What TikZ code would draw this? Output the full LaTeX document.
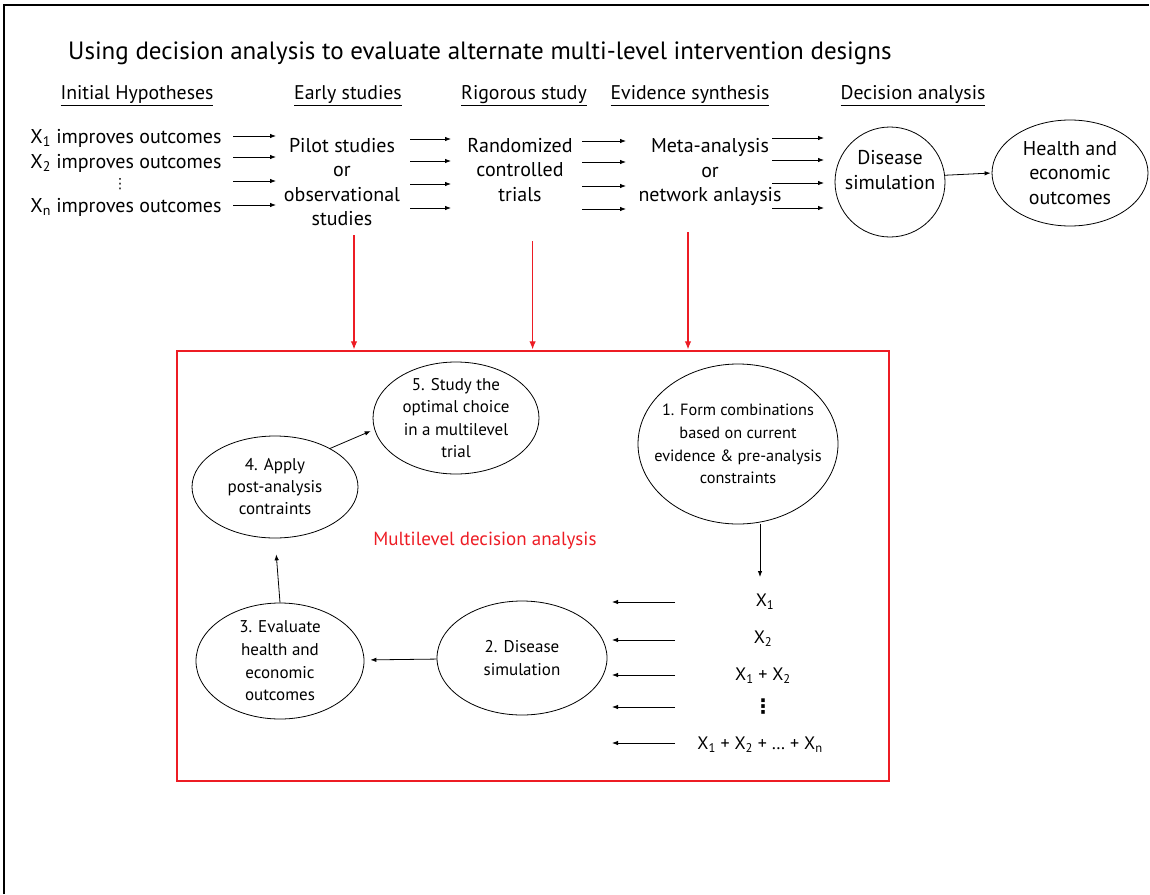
\documentclass[tikz,border=0pt]{standalone}
\usepackage{fontspec}
\setmainfont{PT Sans}
\newfontfamily\dotsfont{DejaVu Sans}
\usetikzlibrary{arrows.meta,shapes.geometric}
\definecolor{mlred}{RGB}{237,28,36}

\tikzset{
  post/.style={-{Latex[length=6pt,width=4.5pt]}, line width=0.8pt},
  redpost/.style={-{Latex[length=8pt,width=6.5pt]}, line width=1.1pt, draw=mlred, fill=mlred},
  head/.style={inner sep=0pt, font=\fontsize{19.8}{22}\selectfont},
  stage/.style={inner sep=0pt, align=center, font=\fontsize{20}{24.3}\selectfont},
  blob/.style={ellipse, draw, line width=0.8pt, inner xsep=0pt, inner ysep=-4pt, align=center, font=\fontsize{17}{22.6}\selectfont},
  combo/.style={inner sep=0pt, font=\fontsize{18}{20}\selectfont}
}

\begin{document}
\begin{tikzpicture}[x=1pt, y=-1pt, shorten >=1pt]

   \useasboundingbox (0,0) rectangle (1150,894);
   \draw[line width=2pt] (4,894) -- (4,5) -- (1150,5);

   \node[anchor=west, inner sep=0pt, font=\fontsize{25}{28}\selectfont]
      (title) at (68,53) {Using decision analysis to evaluate alternate multi-level intervention designs};

   \foreach [count=\i] \x/\t in {137/Initial Hypotheses, 348/Early studies, 524/Rigorous study, 690/Evidence synthesis, 913/Decision analysis}
     \node[head] (h\i) at (\x,96) {\underline{\t}};

   \node[stage] (hyp1) at (126,138) {X\textsubscript{1} improves outcomes};
   \node[stage] (hyp2) at (126,163) {X\textsubscript{2} improves outcomes};
   \node[inner sep=0pt, font=\dotsfont\fontsize{14}{14}\selectfont] (hypd) at (120,184) {⋮};
   \node[stage] (hypn) at (126,207) {X\textsubscript{n} improves outcomes};

   \node[stage] (early) at (342,182) {Pilot studies\\or\\observational\\studies};
   \node[stage] (rct) at (520,170) {Randomized\\controlled\\trials};
   \node[stage] (meta) at (710,172) {Meta-analysis\\or\\network anlaysis};
   \node[circle, draw, line width=0.8pt, minimum size=110,
         label={[stage, yshift=12]center:{Disease\\simulation}}] (dsim) at (890,182) {};
   \node[stage, ellipse, draw, line width=0.8pt, minimum width=156, minimum height=106] (heo) at (1070,173) {Health and\\economic\\outcomes};

   \foreach \k/\xa/\xb/\ya/\yb/\yc/\yd in {a/233/277/136/157/181/205, b/410/452/139/161/184/208, c/582/627/141/162/186/209, d/772/825/138/160/183/208}
     \foreach [count=\j] \y in {\ya,\yb,\yc,\yd} {
       \coordinate (s\k\j) at (\xa,\y);
       \coordinate (e\k\j) at (\xb,\y);
       \draw[post] (s\k\j) -- (e\k\j);
     }
   \draw[post] (dsim.7) -- (heo.west);

   \node[draw=mlred, line width=1.3pt, minimum width=712, minimum height=430] (mlbox) at (533,566) {};
   \node[inner sep=0pt, text=mlred, font=\fontsize{19}{22}\selectfont] (mltitle) at (485,541) {Multilevel decision analysis};

   \foreach \i/\x/\y in {1/354/235, 2/532.6/241, 3/688/232} {
     \coordinate (r\i) at (\x,\y);
     \draw[redpost] (r\i) -- (r\i |- mlbox.north);
   }

   \node[blob, minimum width=200, minimum height=160, inner xsep=-14pt, font=\fontsize{16.3}{22.6}\selectfont] (step1) at (738,444) {1. Form combinations\\based on current\\evidence \& pre-analysis\\constraints};
   \node[blob, minimum width=170, minimum height=114] (step2) at (522,658) {2. Disease\\simulation};
   \node[blob, minimum width=168, minimum height=116] (step3) at (280,661) {3. Evaluate\\health and\\economic\\outcomes};
   \node[blob, minimum width=166, minimum height=102, font=\fontsize{17}{22}\selectfont] (step4) at (275,487) {4. Apply\\post-analysis\\contraints};
   \node[blob, minimum width=166, minimum height=112] (step5) at (456,418) {5. Study the\\optimal choice\\in a multilevel\\trial};

   \foreach [count=\i] \x/\y/\t in {765/602/{X\textsubscript{1}}, 763/639/{X\textsubscript{2}}, 763/676/{X\textsubscript{1} + X\textsubscript{2}}, 760/745/{X\textsubscript{1} + X\textsubscript{2} + \ldots{} + X\textsubscript{n}}}
     \node[combo] (cmb\i) at (\x,\y) {\t};
   \node[inner sep=0pt, font=\dotsfont\bfseries\fontsize{20}{20}\selectfont] (cmbd) at (763,707) {⋮};

   \coordinate (c0) at (760,578);
   \draw[post] (step1.south -| c0) -- (c0);
   \foreach [count=\i] \y in {602,640,675,707,743} {
     \coordinate (ls\i) at (675,\y);
     \coordinate (le\i) at (611,\y);
     \draw[post] (ls\i) -- (le\i);
   }

   \draw[post, shorten >=6pt] (step2) -- (step3);
   \draw[post, shorten >=16pt] (step3.north) -- (step4.south);
   \draw[post, shorten >=4pt] (step4.35) -- (step5.188);

\end{tikzpicture}
\end{document}
